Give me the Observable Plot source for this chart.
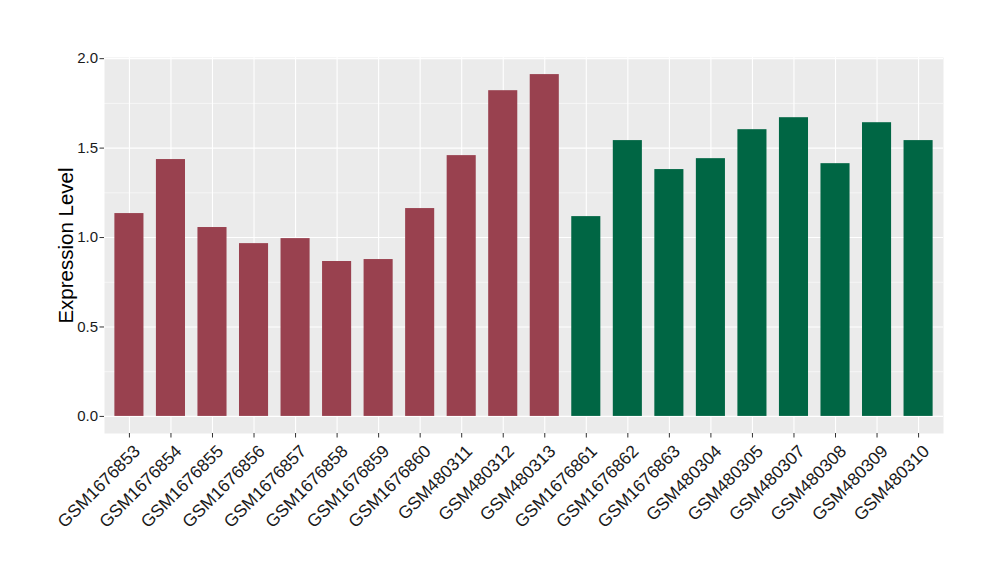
<!DOCTYPE html>
<html>
<head>
<meta charset="utf-8">
<script src="https://cdn.jsdelivr.net/npm/d3@7"></script>
<script src="https://cdn.jsdelivr.net/npm/@observablehq/plot@0.6"></script>
<style>
  html, body { margin: 0; padding: 0; background: #fff; }
  #chart { width: 1000px; height: 580px; }
  svg { font-family: "Liberation Sans", Arial, sans-serif; }
</style>
</head>
<body>
<div id="chart"></div>
<script>
const samples = ["GSM1676853","GSM1676854","GSM1676855","GSM1676856","GSM1676857","GSM1676858","GSM1676859","GSM1676860","GSM480311","GSM480312","GSM480313","GSM1676861","GSM1676862","GSM1676863","GSM480304","GSM480305","GSM480307","GSM480308","GSM480309","GSM480310"];
const values = [1.134,1.436,1.056,0.966,0.994,0.866,0.877,1.162,1.458,1.821,1.911,1.117,1.542,1.380,1.441,1.603,1.670,1.413,1.642,1.542];
const groups = ["A","A","A","A","A","A","A","A","A","A","A","B","B","B","B","B","B","B","B","B"];
const groupColors = {A: "#99414F", B: "#006644"};
const yTicks = [0, 0.5, 1.0, 1.5, 2.0];
const yTickLabels = ["0.0", "0.5", "1.0", "1.5", "2.0"];
const yMinor = [0.25, 0.75, 1.25, 1.75];
const yTitle = "Expression Level";

const data = samples.map((s, i) => ({sample: s, value: values[i], group: groups[i]}));
const maxV = d3.max(values);

const chart = Plot.plot({
  width: 1000,
  height: 580,
  marginLeft: 104,
  marginRight: 57,
  marginTop: 57,
  marginBottom: 147,
  style: {fontFamily: "'Liberation Sans', Arial, sans-serif", background: "#fff"},
  x: {domain: samples, paddingInner: 0.3, paddingOuter: 0.25, round: false, label: null, axis: null},
  y: {domain: [-0.05 * maxV, 1.05 * maxV], label: null, axis: null},
  color: {domain: ["A","B"], range: [groupColors.A, groupColors.B]},
  marks: [
    Plot.frame({fill: "#EBEBEB", stroke: null}),
    Plot.ruleY(yMinor, {stroke: "#fff", strokeWidth: 0.55}),
    Plot.ruleY(yTicks, {stroke: "#fff", strokeWidth: 1.1}),
    Plot.ruleX(samples, {x: d => d, stroke: "#fff", strokeWidth: 1.1}),
    Plot.barY(data, {x: "sample", y: "value", fill: "group"}),
    // y ticks and labels
    Plot.axisY({ticks: yTicks, tickSize: 4.5, tickFormat: () => "", stroke: "#333", label: null}),
    Plot.text(yTicks, {y: d => d, text: (d, i) => yTickLabels[i], frameAnchor: "left", dx: -6.5, textAnchor: "end", fontSize: 15, fill: "#1a1a1a"}),
    // x ticks and labels
    Plot.axisX({tickSize: 4.5, tickFormat: () => "", stroke: "#333", label: null}),
    Plot.text(samples, {x: d => d, text: d => d, frameAnchor: "bottom", dx: 3, dy: 10, rotate: -45, textAnchor: "end", lineAnchor: "top", fontSize: 17.5, fill: "#1a1a1a"}),
    // y title
    Plot.text([yTitle], {frameAnchor: "left", dx: -31.5, rotate: -90, fontSize: 20.5, fill: "#000", text: d => d, textAnchor: "middle", lineAnchor: "bottom"})
  ]
});
document.getElementById("chart").appendChild(chart);
</script>
</body>
</html>
